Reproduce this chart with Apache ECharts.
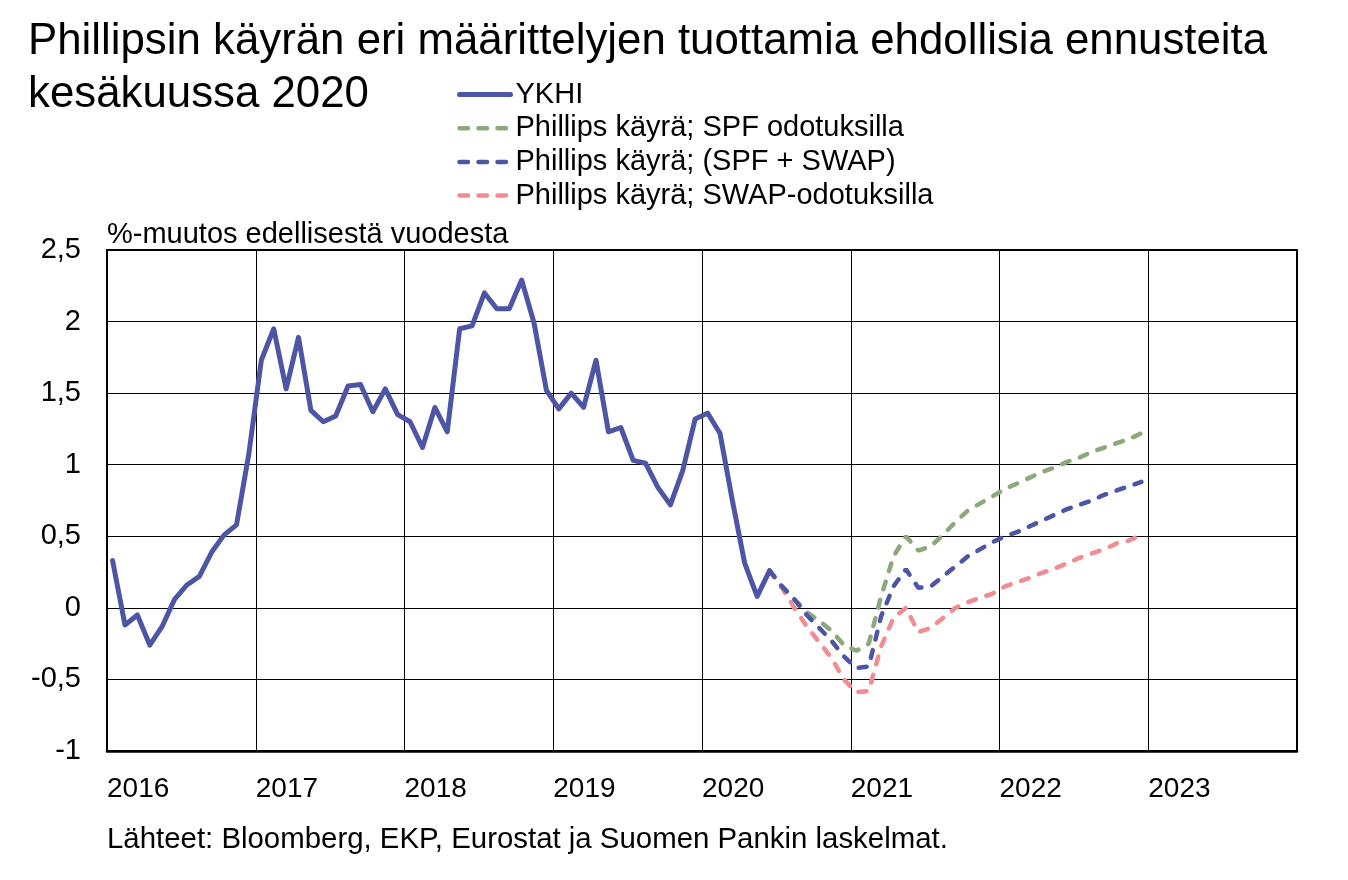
<!DOCTYPE html>
<html><head><meta charset="utf-8">
<script src="https://cdn.jsdelivr.net/npm/echarts@6/dist/echarts.min.js"></script>
<style>html,body{margin:0;padding:0;background:#fff}#c{width:1348px;height:880px}</style>
</head><body><div id="c"></div>
<script>
// ---- data ----
const seriesNames = ['YKHI', 'Phillips käyrä; SPF odotuksilla', 'Phillips käyrä; (SPF + SWAP)', 'Phillips käyrä; SWAP-odotuksilla'];
const yearLabels = ['2016','2017','2018','2019','2020','2021','2022','2023'];
const ykhiStart = '2016-01';
const ykhiValues = [0.33,-0.12,-0.05,-0.26,-0.13,0.06,0.16,0.22,0.39,0.51,0.58,1.08,
  1.73,1.95,1.53,1.89,1.38,1.30,1.34,1.55,1.56,1.37,1.53,1.35,
  1.30,1.12,1.40,1.23,1.95,1.97,2.20,2.09,2.09,2.29,1.99,1.52,
  1.39,1.50,1.40,1.73,1.23,1.26,1.03,1.01,0.84,0.72,0.96,1.32,
  1.36,1.22,0.75,0.31,0.08,0.26];
const forecastStart = '2020-06';
const spfValues = [0.26,0.15,0.06,-0.03,-0.09,-0.16,-0.26,-0.30,-0.25,0.08,0.36,0.50,0.40,0.43,0.51,0.60,0.68,0.73,0.78,0.83,
  0.87,0.91,0.95,0.98,1.02,1.05,1.09,1.12,1.15,1.18,1.22];
const spfSwapValues = [0.26,0.15,0.06,-0.05,-0.14,-0.23,-0.34,-0.42,-0.41,-0.06,0.15,0.27,0.14,0.15,0.22,0.29,0.36,0.41,0.46,0.50,
  0.53,0.57,0.61,0.65,0.69,0.72,0.75,0.79,0.82,0.85,0.88];
const swapValues = [0.26,0.14,0.00,-0.13,-0.24,-0.35,-0.50,-0.59,-0.58,-0.27,-0.07,0.00,-0.17,-0.14,-0.07,0.00,0.04,0.07,0.10,0.15,
  0.18,0.21,0.245,0.275,0.31,0.35,0.38,0.41,0.45,0.47,0.51];

// month string -> position on axis (months since Jan 2016, plotted mid-month)
function monthPos(s, k) {
  const [y, m] = s.split('-').map(Number);
  return (y - 2016) * 12 + (m - 1) + k + 0.45;
}
function toPairs(start, vals) { return vals.map((v, k) => [monthPos(start, k), v]); }

const FONT = '"Liberation Sans", Arial, sans-serif';
const C_BLUE = '#4D56A5', C_GREEN = '#8DA87B', C_RED = '#F08C92';

const chart = echarts.init(document.getElementById('c'), null, {renderer: 'canvas'});
const dash = {type: [8, 11], width: 4.5, cap: 'round'};
const legDash = {type: [8.5, 10.5], width: 4.5, cap: 'round'};
chart.setOption({
  animation: false,
  textStyle: {fontFamily: FONT, color: '#000'},
  grid: {left: 107, top: 250, width: 1190, height: 501, show: true, borderColor: '#000', borderWidth: 2, containLabel: false},
  legend: {
    orient: 'vertical', left: 452, top: 75, itemWidth: 51, itemHeight: 14, itemGap: 4.7,
    itemStyle: {opacity: 0},
    textStyle: {fontSize: 29, fontFamily: FONT, color: '#000', lineHeight: 27},
    selectedMode: false,
    data: [
      {name: seriesNames[0], lineStyle: {color: C_BLUE, width: 5, type: 'solid', cap: 'round'}},
      {name: seriesNames[1], lineStyle: Object.assign({color: C_GREEN}, legDash)},
      {name: seriesNames[2], lineStyle: Object.assign({color: C_BLUE}, legDash)},
      {name: seriesNames[3], lineStyle: Object.assign({color: C_RED}, legDash)}
    ]
  },
  graphic: [
    {type: 'text', x: 28, y: 42, style: {text: 'Phillipsin käyrän eri määrittelyjen tuottamia ehdollisia ennusteita', font: '43.8px ' + FONT, fill: '#000', verticalAlign: 'middle'}},
    {type: 'text', x: 28, y: 95, style: {text: 'kesäkuussa 2020', font: '43.8px ' + FONT, fill: '#000', verticalAlign: 'middle'}},
    {type: 'text', x: 107, y: 235, style: {text: '%-muutos edellisestä vuodesta', font: '29px ' + FONT, fill: '#000', verticalAlign: 'middle'}},
    {type: 'text', x: 107, y: 840, style: {text: 'Lähteet: Bloomberg, EKP, Eurostat ja Suomen Pankin laskelmat.', font: '29.4px ' + FONT, fill: '#000', verticalAlign: 'middle'}}
  ],
  xAxis: {
    type: 'value', min: 0, max: 96, interval: 12,
    axisLine: {show: true, onZero: false, lineStyle: {color: '#000', width: 2.5}},
    axisTick: {show: false},
    splitLine: {show: true, lineStyle: {color: '#000', width: 1}},
    axisLabel: {
      fontSize: 28, color: '#000', fontFamily: FONT, align: 'left', margin: 24,
      formatter: v => { const i = Math.round(v / 12); return i < yearLabels.length ? yearLabels[i] : ''; }
    }
  },
  yAxis: {
    type: 'value', min: -1, max: 2.5, interval: 0.5,
    axisLine: {show: true, lineStyle: {color: '#000', width: 2}},
    axisTick: {show: false},
    splitLine: {show: true, lineStyle: {color: '#000', width: 1}},
    axisLabel: {fontSize: 29, color: '#000', fontFamily: FONT, margin: 26, formatter: v => String(v).replace('.', ',')}
  },
  series: [
    {name: seriesNames[0], type: 'line', symbol: 'none', data: toPairs(ykhiStart, ykhiValues), z: 5,
     lineStyle: {color: C_BLUE, width: 5, cap: 'round', join: 'round'}, itemStyle: {color: C_BLUE}},
    {name: seriesNames[1], type: 'line', symbol: 'none', data: toPairs(forecastStart, spfValues), z: 3,
     lineStyle: Object.assign({color: C_GREEN}, dash), itemStyle: {color: C_GREEN}},
    {name: seriesNames[2], type: 'line', symbol: 'none', data: toPairs(forecastStart, spfSwapValues), z: 4,
     lineStyle: Object.assign({color: C_BLUE}, dash), itemStyle: {color: C_BLUE}},
    {name: seriesNames[3], type: 'line', symbol: 'none', data: toPairs(forecastStart, swapValues), z: 2,
     lineStyle: Object.assign({color: C_RED}, dash), itemStyle: {color: C_RED}}
  ]
});
</script></body></html>
